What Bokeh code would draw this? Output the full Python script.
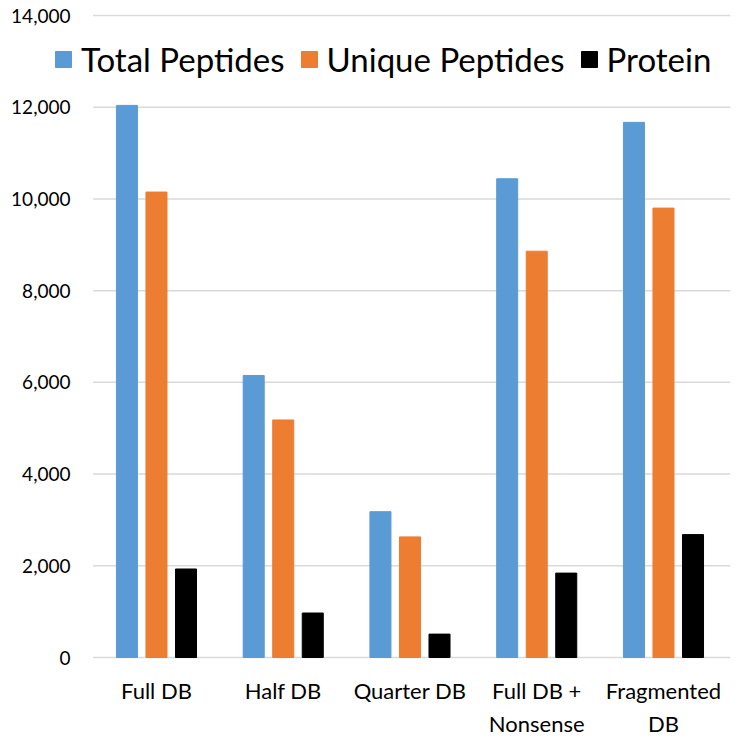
from bokeh.plotting import figure
from bokeh.models import FixedTicker, Range1d
from bokeh.core.properties import value
from bokeh.embed import file_html
from bokeh.resources import INLINE

categories = ["Full DB", "Half DB", "Quarter DB", "Full DB +\nNonsense", "Fragmented\nDB"]
total_peptides = [12040, 6150, 3180, 10440, 11670]
unique_peptides = [10150, 5180, 2630, 8860, 9800]
protein = [1930, 970, 510, 1840, 2680]
y_ticks = [0, 2000, 4000, 6000, 8000, 10000, 12000, 14000]
y_tick_labels = ["{:,}".format(t) for t in y_ticks]

FONT = "Lato"

# layout (pixels)
cat_px = 126.75          # pixel width of one category slot
left_gap = 92.6          # pixels from frame left to first category slot
frame_w = 730
frame_right_pad = 6
y_top_px = 15            # pixel of top tick below frame top
zero_px = 657            # pixel of the zero line
frame_h = 666            # frame extends a little below zero so the "0" label is not clipped

x_start = -0.5 - left_gap / cat_px
x_end = x_start + frame_w / cat_px
px_per_unit_y = (zero_px - y_top_px) / y_ticks[-1]
y_end = y_ticks[-1] + y_top_px / px_per_unit_y
y_start = -(frame_h - zero_px) / px_per_unit_y

idx = list(range(len(categories)))

p = figure(x_range=Range1d(x_start, x_end), y_range=Range1d(y_start, y_end),
           frame_width=frame_w, frame_height=frame_h,
           output_backend="svg", toolbar_location=None,
           y_axis_location=None,
           min_border_left=0, min_border_right=frame_right_pad, min_border_top=0,
           min_border_bottom=0)
p.outline_line_color = None
p.xgrid.grid_line_color = None
p.ygrid.grid_line_color = None

# gridlines restricted to the category area
n = len(y_ticks)
p.segment(x0=[-0.5] * n, x1=[x_end] * n, y0=y_ticks, y1=y_ticks,
          line_color="#D9D9D9", line_width=1.5)

# y tick labels
label_x = x_start + 70 / cat_px
p.text(x=[label_x] * n, y=y_ticks, text=y_tick_labels, text_align="right",
       text_baseline="middle", text_font=value(FONT), text_font_size="19px",
       text_color="#000000")

w = 0.166
off = 0.233
p.vbar(x=[i - off for i in idx], top=total_peptides, width=w,
       fill_color="#5B9BD5", line_color="#5B9BD5", legend_label="Total Peptides")
p.vbar(x=idx, top=unique_peptides, width=w,
       fill_color="#ED7D31", line_color="#ED7D31", legend_label="Unique Peptides")
p.vbar(x=[i + off for i in idx], top=protein, width=w,
       fill_color="#000000", line_color="#000000", legend_label="Protein")

xa = p.xaxis[0]
xa.ticker = FixedTicker(ticks=idx)
xa.major_label_overrides = {i: c for i, c in zip(idx, categories)}
xa.axis_line_color = None
xa.major_tick_line_color = None
xa.minor_tick_line_color = None
xa.major_tick_out = 0
xa.major_tick_in = 0
xa.major_label_standoff = 10
xa.major_label_text_font = FONT
xa.major_label_text_font_size = "22px"
xa.major_label_text_color = "#000000"
xa.major_label_text_line_height = 1.25

leg = p.legend[0]
leg.orientation = "horizontal"
leg.location = (53, 587)
leg.label_text_font = FONT
leg.label_text_font_size = "33px"
leg.label_text_color = "#000000"
leg.glyph_width = 20
leg.glyph_height = 20
leg.label_standoff = 8
leg.spacing = 14
leg.padding = 0
leg.margin = 0
leg.border_line_color = None
leg.background_fill_alpha = 0

open("out.html", "w").write(file_html(p, INLINE))
